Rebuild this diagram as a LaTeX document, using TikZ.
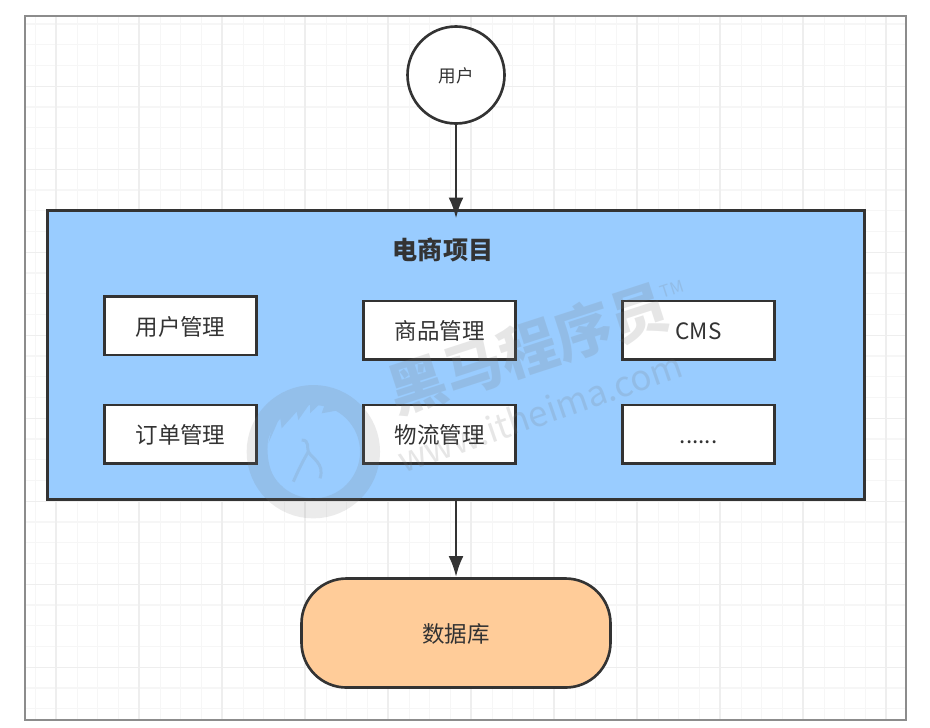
\documentclass[tikz,border=0pt]{standalone}
\usepackage{fontspec}
\setmainfont{Noto Sans CJK SC}
\usepackage{xcolor}
\usetikzlibrary{positioning, arrows.meta, calc}

\definecolor{inkgray}{HTML}{333333}
\definecolor{framegray}{HTML}{8C8C8C}
\definecolor{projblue}{HTML}{99CCFF}
\definecolor{dborange}{HTML}{FFCC99}
\definecolor{gridminor}{HTML}{F6F6F6}
\definecolor{gridmajor}{HTML}{EEEEEE}
\definecolor{markgray}{HTML}{777777}

\begin{document}
\begin{tikzpicture}[
    every node/.style={text=inkgray, outer sep=0pt},
    item/.style={draw=inkgray, line width=1.5pt, fill=white, minimum width=3.05cm, minimum height=1.17cm,
                 inner sep=0pt, text height=11pt, text depth=0pt, font=\fontsize{12.8pt}{15pt}\selectfont},
    person/.style={draw=inkgray, line width=1.5pt, circle, fill=white, minimum size=1.94cm,
                 inner sep=0pt, text height=8.5pt, text depth=0pt, font=\fontsize{10pt}{12pt}\selectfont},
    project/.style={draw=inkgray, line width=1.5pt, fill=projblue, minimum width=16.33cm, minimum height=5.78cm},
    store/.style={draw=inkgray, line width=1.5pt, fill=dborange, rounded corners=0.9cm, minimum width=6.18cm,
                 minimum height=2.18cm, text height=11pt, text depth=0pt, font=\fontsize{12.8pt}{15pt}\selectfont},
    arrow/.style={-{Latex[length=0.42cm, width=0.3cm]}, line width=1.5pt, draw=inkgray},
    minorline/.style={draw=gridminor, line width=0.6pt},
    majorline/.style={draw=gridmajor, line width=0.7pt},
    stamp/.style={text=markgray, text opacity=0.18, inner sep=0pt},
]
\useasboundingbox (0,0) rectangle (18.6,-14.54);

% --- Grid paper and frame ---
\begin{scope}
\clip (0.5,-0.32) rectangle (18.12,-14.4);
\foreach \i in {0,...,42} \draw[minorline] ({0.714+0.415*\i},-0.32) -- ({0.714+0.415*\i},-14.4);
\foreach \i in {0,...,33} \draw[minorline] (0.5,{-0.48-0.415*\i}) -- (18.12,{-0.48-0.415*\i});
\foreach \i in {0,...,10} \draw[majorline] ({1.12+1.66*\i},-0.32) -- ({1.12+1.66*\i},-14.4);
\foreach \i in {0,...,7} \draw[majorline] (0.5,{-1.726-1.66*\i}) -- (18.12,{-1.726-1.66*\i});
\end{scope}
\draw[framegray, line width=1.6pt] (0.5,-0.32) rectangle (18.12,-14.4);

% --- Main column ---
\node[person] (user) at (9.12,-1.5) {用户};
\node[project, below=1.74cm of user] (shop) {};
\node[store, below=1.58cm of shop] (db) {数据库};
\coordinate (shoptip) at ($(shop.north)+(0,-0.16)$);
\coordinate (dbtip) at ($(db.north)+(0,0.03)$);

% --- Inside the project box ---
\node[below=0.55cm of shop.north, xshift=-0.26cm, inner sep=0pt, font=\fontsize{14.3pt}{17pt}\selectfont\bfseries] (title) {电商项目};
\node[item, below=1.81cm of shop.north, xshift=-0.33cm] (goods) {商品管理};
\node[item, right=2.13cm of goods] (cms) {CMS};
\node[item, left=2.13cm of goods, yshift=0.09cm] (users) {用户管理};
\node[item, below=0.91cm of goods] (logistics) {物流管理};
\node[item, right=2.13cm of logistics] (more) {......};
\node[item, left=2.13cm of logistics] (orders) {订单管理};

% --- Arrows ---
\draw[arrow] (user) -- (shoptip);
\draw[arrow] (shop) -- (dbtip);

% --- Watermark ---
\node[stamp, rotate=18, font=\fontsize{33pt}{36pt}\selectfont\bfseries] (markname) at (10.56,-6.97) {黑马程序员};
\node[stamp, rotate=19, font=\fontsize{20pt}{24pt}\selectfont] (marksite) at (10.8,-8.24) {www.itheima.com};
\node[stamp, rotate=18, font=\fontsize{9.5pt}{11pt}\selectfont] (marktm) at (13.44,-5.78) {TM};
\begin{scope}[shift={(4.8,-7.6)}, x=0.00667cm, y=-0.00667cm, transparency group, opacity=0.15]
\draw[markgray, line width=0.4cm] (220,215) circle (170);
\fill[markgray] (85,190) -- (120,110) -- (125,145) -- (170,95) -- (175,120) -- (210,70) -- (210,100) -- (262,50)
    -- (245,100) -- (300,90) -- (330,60) -- (310,105) -- (355,100) -- (340,60) -- (220,40) -- (110,80) -- cycle;
\fill[markgray] (85,170) .. controls (75,240) and (95,300) .. (130,322) -- (100,310) -- (60,220) -- cycle;
\draw[markgray, line width=0.06cm] (185,180) .. controls (210,180) and (200,205) .. (205,215)
    .. controls (215,235) and (255,250) .. (240,295);
\draw[markgray, line width=0.06cm] (205,215) .. controls (190,240) and (175,270) .. (160,305);
\end{scope}
\end{tikzpicture}
\end{document}
